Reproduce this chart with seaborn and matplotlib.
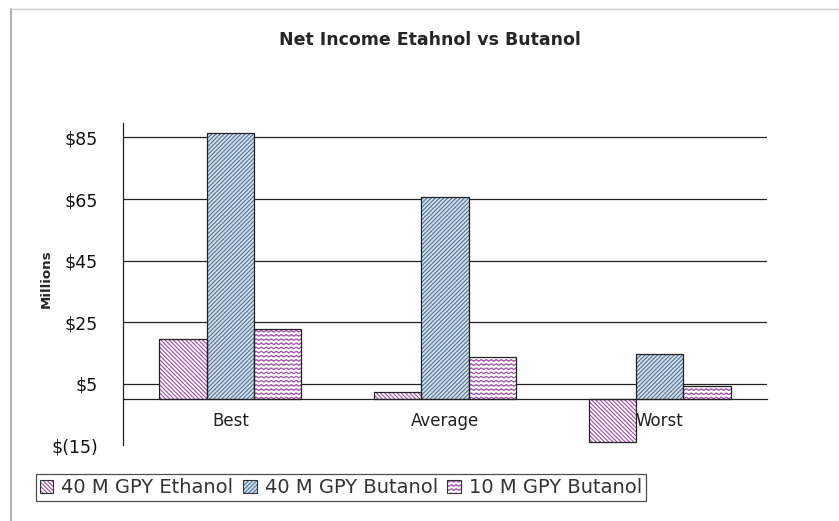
import numpy as np
import pandas as pd
import matplotlib
matplotlib.use("Agg")
import matplotlib.pyplot as plt
import matplotlib.hatch as mhatch
from matplotlib.path import Path
from matplotlib.patches import Patch, Rectangle
from matplotlib.legend_handler import HandlerTuple
from matplotlib.lines import Line2D
from matplotlib.ticker import FixedLocator, FuncFormatter
import seaborn as sns

# data (millions of $)
scenarios = ["Best", "Average", "Worst"]
series_names = ["40 M GPY Ethanol", "40 M GPY Butanol", "10 M GPY Butanol"]
ethanol_40 = [19.4, 2.4, -13.9]
butanol_40 = [86.4, 65.6, 14.8]
butanol_10 = [22.9, 13.6, 4.4]
y_ticks = [-15, 5, 25, 45, 65, 85]

fills = ["white", "#d4e0ee", "white"]
hatch_colors = ["#a04aa8", "#4f7396", "#a04aa8"]
hatches = ["\\" * 8, "/" * 8, "OOOO"]


# wavy hatch (Excel "wave" pattern) - takes over the 'O' hatch char
class WaveHatch(mhatch.HatchPatternBase):
    def __init__(self, hatch, density):
        self.num_rows = int(hatch.count("O") * density)
        self.num_pts = 161
        self.num_vertices = self.num_rows * self.num_pts

    def set_vertices_and_codes(self, vertices, codes):
        xs = np.linspace(0, 1, self.num_pts)
        for i in range(self.num_rows):
            y0 = (i + 0.5) / self.num_rows
            sl = slice(i * self.num_pts, (i + 1) * self.num_pts)
            vertices[sl, 0] = xs
            vertices[sl, 1] = y0 + 0.008 * np.sin(2 * np.pi * 20 * xs)
            codes[sl] = Path.LINETO
            codes[i * self.num_pts] = Path.MOVETO


mhatch._hatch_types = [WaveHatch if h is mhatch.LargeCircles else h
                       for h in mhatch._hatch_types]

sns.set_style("white")
plt.rcParams["font.family"] = ["DejaVu Sans"]
plt.rcParams["hatch.linewidth"] = 0.8

df = pd.DataFrame({
    "scenario": scenarios * 3,
    "series": np.repeat(series_names, 3),
    "value": ethanol_40 + butanol_40 + butanol_10,
})

fig = plt.figure(figsize=(8.39, 5.21), dpi=100)
ax = fig.add_axes([123 / 839, 1 - 445.4 / 521, 644 / 839, 322.4 / 521])

sns.barplot(data=df, x="scenario", y="value", hue="series", order=scenarios,
            hue_order=series_names, palette=fills, width=0.66, gap=0,
            errorbar=None, legend=False, ax=ax, zorder=3)

for cont, hatch, hc in zip(ax.containers, hatches, hatch_colors):
    for p in cont:
        p.set_hatch(hatch)
        p.set_edgecolor(hc)
        p.set_linewidth(0)
        ax.add_patch(Rectangle(p.get_xy(), p.get_width(), p.get_height(),
                               fill=False, ec="#222222", lw=0.9, zorder=4))

ax.set_xlim(-0.5, 2.5)
ax.set_ylim(-15, 89.7)
ax.set_xlabel("")
ax.set_ylabel("")

ax.yaxis.set_major_locator(FixedLocator(y_ticks))
ax.yaxis.set_major_formatter(FuncFormatter(
    lambda v, pos: f"${v:.0f}" if v >= 0 else f"$({-v:.0f})"))
ax.tick_params(axis="y", direction="out", length=6, width=0.9, color="#222",
               labelsize=12.5, pad=12, labelcolor="#111")
ax.tick_params(axis="x", which="major", length=0, labelsize=12, pad=9,
               labelcolor="#222")
ax.xaxis.set_minor_locator(FixedLocator([0.5, 1.5, 2.5]))
ax.tick_params(axis="x", which="minor", direction="out", length=4, width=0.9,
               color="#222")

ax.yaxis.grid(True, color="#222222", lw=0.9)
ax.get_ygridlines()[0].set_visible(False)
ax.set_axisbelow(True)

for s in ["top", "right"]:
    ax.spines[s].set_visible(False)
ax.spines["bottom"].set_position(("data", 0))
ax.spines["bottom"].set_zorder(5)
for s in ["left", "bottom"]:
    ax.spines[s].set_color("#222222")
    ax.spines[s].set_linewidth(0.9)

# title and axis label
fig.text(430 / 839, 1 - 40 / 521, "Net Income Etahnol vs Butanol",
         ha="center", va="center", fontsize=12.5, fontweight="bold")
fig.text(46 / 839, 1 - 279 / 521, "Millions", rotation=90, ha="center",
         va="center", fontsize=9.6, fontweight="bold")

# legend
handles = []
for f, h, hc in zip(fills, hatches, hatch_colors):
    handles.append((Patch(fc=f, hatch=h, ec=hc, lw=0),
                    Patch(fill=False, ec="#333333", lw=0.8)))
leg = fig.legend(handles, series_names, loc="lower left",
                 bbox_to_anchor=(36 / 839, 1 - 501 / 521), ncols=3,
                 handler_map={tuple: HandlerTuple(ndivide=1)},
                 fontsize=14, frameon=True, fancybox=False, shadow=False,
                 borderpad=0.2, handlelength=0.7, handleheight=0.7,
                 handletextpad=0.4, columnspacing=0.5, borderaxespad=0)
leg.get_frame().set_edgecolor("#222222")
leg.get_frame().set_linewidth(0.9)
for t in leg.get_texts():
    t.set_color("#333333")

# chart area border
fig.add_artist(Line2D([11 / 839, 11 / 839], [0, 1 - 9 / 521],
                      transform=fig.transFigure, color="#a0a0a0", lw=1.2))
fig.add_artist(Line2D([11 / 839, 1], [1 - 9 / 521, 1 - 9 / 521],
                      transform=fig.transFigure, color="#cccccc", lw=1.0))

fig.savefig("out.png", dpi=100)
